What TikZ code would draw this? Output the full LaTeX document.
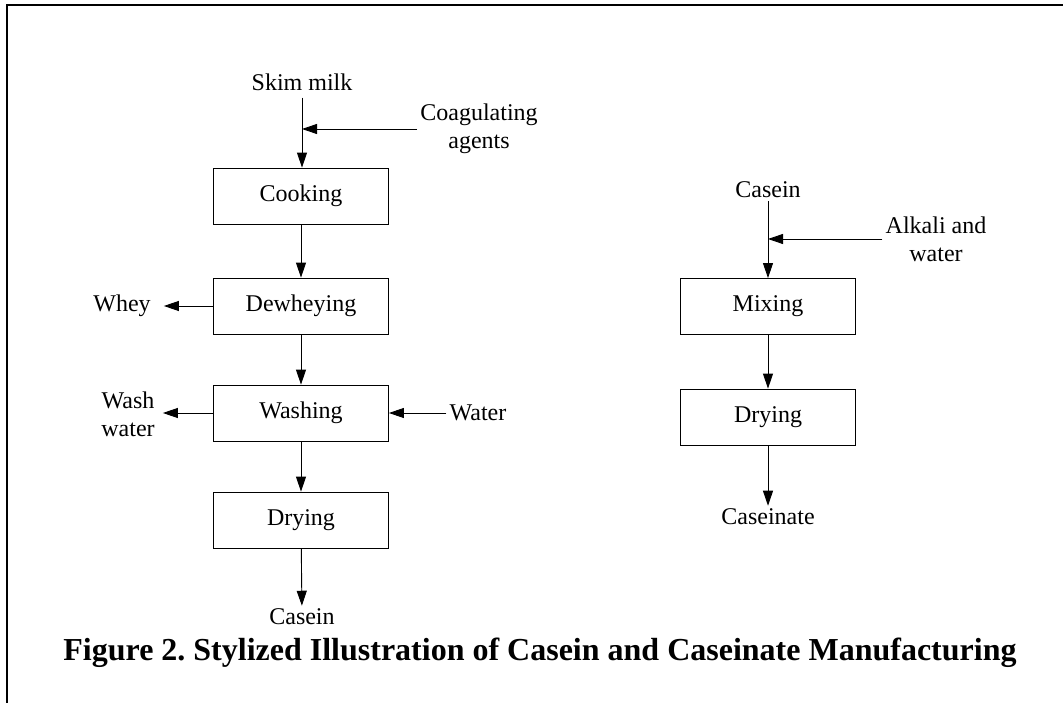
\documentclass[tikz,border=0pt]{standalone}
\usepackage{fontspec}
\setmainfont{Liberation Serif}
\usetikzlibrary{arrows.meta}
\begin{document}
\frenchspacing
\begin{tikzpicture}[x=1pt,y=-1pt,
  box/.style={draw, line width=0.8pt, minimum width=175pt, minimum height=56pt, inner sep=0pt, font=\fontsize{24}{28}\selectfont},
  lbl/.style={inner sep=3pt, align=center, font=\fontsize{24}{28}\selectfont},
  flow/.style={line width=0.9pt, -{Triangle[length=15pt,width=10pt]}},
  ]
\useasboundingbox (0,0) rectangle (1063,703);
\draw[line width=2pt] (7,703) -- (7,5) -- (1063,5);

% left column
\node[lbl] (skim) at (302,82) {Skim milk};
\node[lbl] (coag) at (479,129) {Coagulating\\agents};
\node[box] (cook) at (301,196) {Cooking};
\node[box] (dewh) at (301,306) {Dewheying};
\node[box] (wash) at (301,413) {Washing};
\node[box] (dry1) at (301,520) {Drying};
\node[lbl] (cas1) at (302,617) {Casein};
\node[lbl] (whey) at (122,306) {Whey};
\node[lbl] (wwat) at (128,414) {Wash\\water};
\node[lbl] (watr) at (478,413) {Water};

\draw[flow, shorten <=4pt] (skim) -- (skim |- cook.north);
\coordinate (j1) at (skim |- coag.west);
\draw[flow] (coag.west) -- (j1);
\draw[flow] (cook) -- (dewh);
\draw[flow] (dewh) -- (wash);
\draw[flow] (wash) -- (dry1);
\draw[flow] (dry1) -- (cas1);
\draw[flow, shorten >=10pt] (dewh.west) -- (whey.east |- dewh.west);
\draw[flow, shorten >=5pt] (wash.west) -- (wwat.east |- wash.west);
\draw[flow] (watr.west) -- (wash.east);

% right column
\node[lbl] (cas2) at (768,190) {Casein};
\node[lbl] (alk) at (936,239) {Alkali and\\water};
\node[box] (mix) at (768,306.5) {Mixing};
\node[box] (dry2) at (768,417) {Drying};
\node[lbl] (csn) at (768,517) {Caseinate};

\draw[flow] (cas2) -- (mix);
\coordinate (j2) at (cas2 |- alk.west);
\draw[flow] (alk.west) -- (j2);
\draw[flow] (mix) -- (dry2);
\draw[flow] (dry2) -- (csn);

% caption
\node[inner sep=0pt, font=\fontsize{32}{36}\selectfont\bfseries] (cap) at (540,653) {Figure 2. Stylized Illustration of Casein and Caseinate Manufacturing};
\end{tikzpicture}
\end{document}
